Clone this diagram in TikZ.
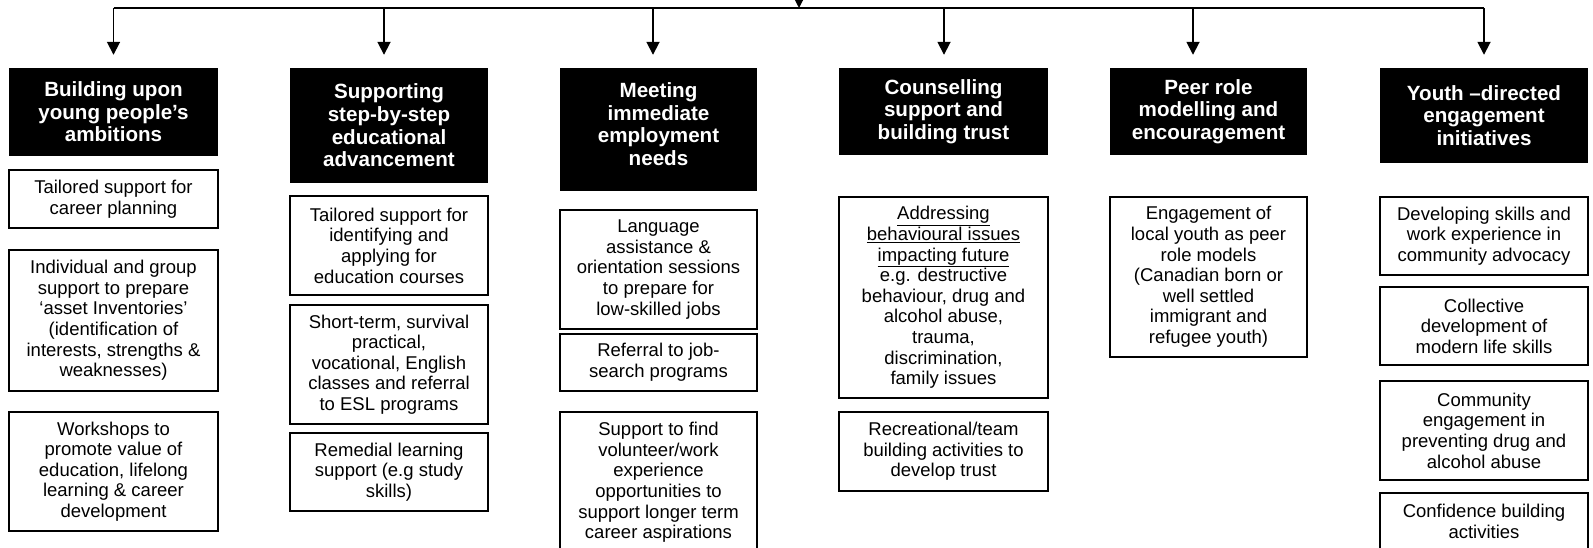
\documentclass[tikz,border=0pt]{standalone}
\usepackage{fontspec}
\setmainfont{Liberation Sans}
\usetikzlibrary{arrows.meta}
\newcommand\headtxt{\bfseries\fontsize{20.6}{22.6}\selectfont}
\newcommand\itemtxt{\fontsize{18.5}{20.6}\selectfont}
\tikzset{
  conn/.style={line width=1.8pt},
  arr/.style={line width=1.8pt, -{Triangle[length=13pt,width=13pt]}, shorten >=13pt},
  headbox/.style={fill=black, text=white, font=\headtxt, align=center, inner sep=2pt},
  itembox/.style={draw, line width=1.6pt, font=\itemtxt, align=center, inner sep=2pt},
  colA/.style={minimum width=209pt},
  colB/.style={minimum width=198pt},
  colC/.style={minimum width=197pt},
  colD/.style={minimum width=209pt},
  colE/.style={minimum width=197pt},
  colF/.style={minimum width=208pt}
}
\begin{document}
\begin{tikzpicture}[x=1pt, y=-1pt]
      \useasboundingbox (0,0) rectangle (1593,548);
      \clip (0,0) rectangle (1593,548);

      \node[headbox, colA, minimum height=88pt]  (hd1) at (113.5,112)   {Building upon\\young people’s\\ambitions};
      \node[itembox, colA, minimum height=58pt]  (a1)  at (113.5,199)   {Tailored support for\\career planning};
      \node[itembox, colA, minimum height=141pt] (b1)  at (113.5,320.5) {Individual and group\\support to prepare\\‘asset Inventories’\\(identification of\\interests, strengths \&\\weaknesses)};
      \node[itembox, colA, minimum height=119pt] (c1)  at (113.5,471.5) {Workshops to\\promote value of\\education, lifelong\\learning \& career\\development};

      \node[headbox, colB, minimum height=115pt] (hd2) at (389,125.5) {Supporting\\step-by-step\\educational\\advancement};
      \node[itembox, colB, minimum height=99pt]  (a2)  at (389,245.5) {Tailored support for\\identifying and\\applying for\\education courses};
      \node[itembox, colB, minimum height=119pt] (b2)  at (389,364.5) {Short-term, survival\\practical,\\vocational, English\\classes and referral\\to ESL programs};
      \node[itembox, colB, minimum height=78pt]  (c2)  at (389,472)   {Remedial learning\\support (e.g study\\skills)};

      \node[headbox, colC, minimum height=123pt] (hd3) at (658.5,129.5) {Meeting\\immediate\\employment\\needs\\[-11.3pt]\mbox{}};
      \node[itembox, colC, minimum height=119pt] (a3)  at (658.5,269.5) {Language\\assistance \&\\orientation sessions\\to prepare for\\low-skilled jobs};
      \node[itembox, colC, minimum height=57pt]  (b3)  at (658.5,362.5) {Referral to job-\\search programs};
      \node[itembox, colC, minimum height=141pt] (c3)  at (658.5,482.5) {Support to find\\volunteer/work\\experience\\opportunities to\\support longer term\\career aspirations};

      \node[headbox, colD, minimum height=87pt]  (hd4) at (943.5,111.5) {Counselling\\support and\\building trust};
      \node[itembox, colD, minimum height=201pt] (a4)  at (943.5,297.5) {\underline{Addressing}\\\underline{behavioural issues}\\\underline{impacting future}\\e.g. destructive\\behaviour, drug and\\alcohol abuse,\\trauma,\\discrimination,\\family issues};
      \node[itembox, colD, minimum height=79pt]  (b4)  at (943.5,451.5) {Recreational/team\\building activities to\\develop trust};

      \node[headbox, colE, minimum height=87pt]  (hd5) at (1208.5,111.5) {Peer role\\modelling and\\encouragement};
      \node[itembox, colE, minimum height=160pt] (a5)  at (1208.5,277)   {Engagement of\\local youth as peer\\role models\\(Canadian born or\\well settled\\immigrant and\\refugee youth)};

      \node[headbox, colF, minimum height=95pt]  (hd6) at (1484,115.5) {Youth –directed\\engagement\\initiatives};
      \node[itembox, colF, minimum height=78pt]  (a6)  at (1484,236)   {Developing skills and\\work experience in\\community advocacy};
      \node[itembox, colF, minimum height=78pt]  (b6)  at (1484,326)   {Collective\\development of\\modern life skills};
      \node[itembox, colF, minimum height=99pt]  (c6)  at (1484,430.5) {Community\\engagement in\\preventing drug and\\alcohol abuse};
      \node[itembox, colF, minimum height=57pt]  (d6)  at (1484,521.5) {Confidence building\\activities};

      \coordinate (hub) at (799,-20);
      \coordinate (mid) at (799,8);
      \coordinate (j1) at (113.5,8);
      \coordinate (j2) at (384,8);
      \coordinate (j3) at (653,8);
      \coordinate (j4) at (944,8);
      \coordinate (j5) at (1193,8);
      \coordinate (j6) at (1484,8);
      \draw[conn] (j1) -- (j6);
      \draw[arr, shorten >=0pt] (hub) -- (mid);
      \draw[arr] (j1) -- (j1 |- hd1.north);
      \draw[arr] (j2) -- (j2 |- hd2.north);
      \draw[arr] (j3) -- (j3 |- hd3.north);
      \draw[arr] (j4) -- (j4 |- hd4.north);
      \draw[arr] (j5) -- (j5 |- hd5.north);
      \draw[arr] (j6) -- (j6 |- hd6.north);
\end{tikzpicture}
\end{document}
